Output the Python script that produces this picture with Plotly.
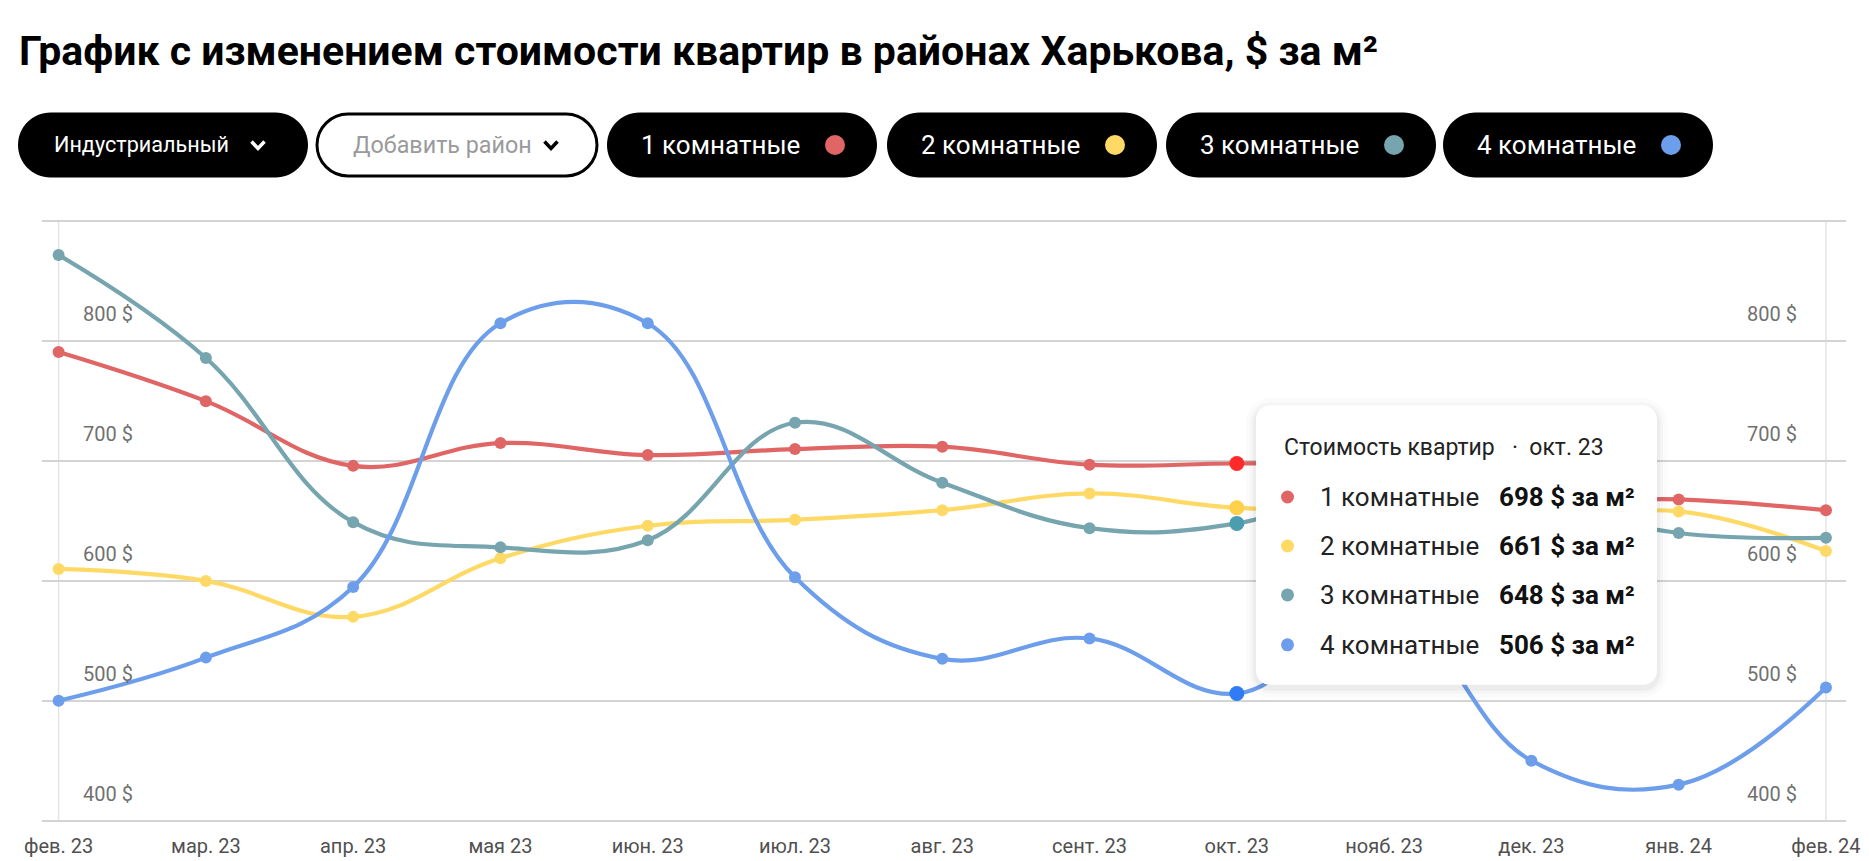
import plotly.graph_objects as go

# --- data ---
months = ["фев. 23", "мар. 23", "апр. 23", "мая 23", "июн. 23", "июл. 23", "авг. 23",
          "сент. 23", "окт. 23", "нояб. 23", "дек. 23", "янв. 24", "фев. 24"]
one_room = [791, 750, 696, 715, 705, 710, 712, 697, 698, 697, 668, 668, 659]
two_room = [610, 600, 570, 619, 646, 651, 659, 673, 661, 660, 650, 658, 625]
three_room = [872, 786, 649, 628, 634, 732, 682, 644, 648, 685, 665, 640, 636]
four_room = [500, 536, 595, 815, 815, 603, 535, 552, 506, 580, 450, 430, 511]
series_names = ["1 комнатные", "2 комнатные", "3 комнатные", "4 комнатные"]
y_ticks = [400, 500, 600, 700, 800, 900]
y_ticktext = ["400 $", "500 $", "600 $", "700 $", "800 $", ""]
focus_idx = 8  # окт. 23, the point shown in the tooltip

# --- styling ---
colors = ["#e06666", "#ffd966", "#76a5af", "#6d9eeb"]
focus_colors = ["#ff2b2b", "#ffd04a", "#4d9db0", "#2f7cf6"]
FONT = "Roboto"

# the page body has an 8px margin, so the figure is 8px smaller than the window
OFF = 8
W, H = 1869 - OFF, 861 - OFF
ML = 42 - OFF
MR = W - (1846 - OFF)
MT = 221 - OFF - 2.4
MB = H - (821 - OFF + 2.4)
PW, PH = W - ML - MR, H - MT - MB


# page pixel -> paper coords
def px(x):
    return (x - OFF - ML) / PW


def py(y):
    return (H - MB - (y - OFF)) / PH


def rounded_rect(x0, y0, x1, y1, r):
    k = 0.5523 * r
    pts = [
        ("M", [(x0 + r, y0)]),
        ("L", [(x1 - r, y0)]),
        ("C", [(x1 - r + k, y0), (x1, y0 + r - k), (x1, y0 + r)]),
        ("L", [(x1, y1 - r)]),
        ("C", [(x1, y1 - r + k), (x1 - r + k, y1), (x1 - r, y1)]),
        ("L", [(x0 + r, y1)]),
        ("C", [(x0 + r - k, y1), (x0, y1 - r + k), (x0, y1 - r)]),
        ("L", [(x0, y0 + r)]),
        ("C", [(x0, y0 + r - k), (x0 + r - k, y0), (x0 + r, y0)]),
    ]
    out = ""
    for cmd, coords in pts:
        out += cmd + " " + " ".join(f"{px(a):.5f},{py(b):.5f}" for a, b in coords) + " "
    return out + "Z"


def chevron(cx, cy, w=6.5, h=7):
    return (f"M {px(cx - w):.5f},{py(cy - h / 2):.5f} L {px(cx):.5f},{py(cy + h / 2):.5f} "
            f"L {px(cx + w):.5f},{py(cy - h / 2):.5f}")


fig = go.Figure()

all_series = [one_room, two_room, three_room, four_room]
x_idx = list(range(len(months)))
for name, vals, col in zip(series_names, all_series, colors):
    fig.add_trace(go.Scatter(
        x=x_idx, y=vals, name=name, mode="lines+markers",
        line=dict(color=col, width=4.2, shape="spline", smoothing=1.15),
        marker=dict(color=col, size=12),
        hoverinfo="skip"))

# highlighted October points
fig.add_trace(go.Scatter(
    x=[focus_idx] * 4, y=[s[focus_idx] for s in all_series], mode="markers",
    marker=dict(color=focus_colors, size=15), hoverinfo="skip"))

# invisible traces to carry the two label axes
for ax in ("y2", "y3"):
    fig.add_trace(go.Scatter(x=x_idx, y=one_room, yaxis=ax, mode="lines",
                             line=dict(width=0), opacity=0, hoverinfo="skip"))

shapes = []
annotations = []

# left / right vertical frame lines
for xv in (0, len(months) - 1):
    shapes.append(dict(type="line", xref="x", yref="y", x0=xv, x1=xv, y0=400, y1=900,
                       line=dict(color="#e4e4e4", width=1.5), layer="below"))

# title
annotations.append(dict(
    text="<b>График с изменением стоимости квартир в районах Харькова, $ за м²</b>",
    xref="paper", yref="paper", x=px(17), y=py(50), xanchor="left", yanchor="middle",
    showarrow=False, font=dict(family=FONT, size=41, color="#000")))

# button row
btn_y0, btn_y1 = 112, 177
btn_cy = (btn_y0 + btn_y1) / 2
shapes.append(dict(type="path", xref="paper", yref="paper",
                   path=rounded_rect(18, btn_y0, 308, btn_y1, 32.5),
                   fillcolor="#000", line=dict(width=0)))
annotations.append(dict(text="Индустриальный", xref="paper", yref="paper",
                        x=px(52), y=py(btn_cy), xanchor="left", yanchor="middle",
                        showarrow=False, font=dict(family=FONT, size=21.6, color="#fff")))
shapes.append(dict(type="path", xref="paper", yref="paper", path=chevron(258, btn_cy),
                   line=dict(color="#fff", width=3.5)))

shapes.append(dict(type="path", xref="paper", yref="paper",
                   path=rounded_rect(317, btn_y0 + 1.5, 597, btn_y1 - 1.5, 31),
                   fillcolor="#fff", line=dict(color="#000", width=3)))
annotations.append(dict(text="Добавить район", xref="paper", yref="paper",
                        x=px(351), y=py(btn_cy), xanchor="left", yanchor="middle",
                        showarrow=False, font=dict(family=FONT, size=23.3, color="#9a9a9a")))
shapes.append(dict(type="path", xref="paper", yref="paper", path=chevron(551, btn_cy),
                   line=dict(color="#000", width=3.5)))

pill_x = [607, 887, 1166, 1443]
for name, col, x0 in zip(series_names, colors, pill_x):
    x1 = x0 + 270
    shapes.append(dict(type="path", xref="paper", yref="paper",
                       path=rounded_rect(x0, btn_y0, x1, btn_y1, 32.5),
                       fillcolor="#000", line=dict(width=0)))
    annotations.append(dict(text=name, xref="paper", yref="paper",
                            x=px(x0 + 32), y=py(btn_cy), xanchor="left", yanchor="middle",
                            showarrow=False, font=dict(family=FONT, size=26, color="#fff")))
    shapes.append(dict(type="circle", xref="paper", yref="paper",
                       x0=px(x1 - 52), x1=px(x1 - 32), y0=py(btn_cy + 10), y1=py(btn_cy - 10),
                       fillcolor=col, line=dict(width=0)))

# tooltip box with soft shadow
tx0, ty0, tx1, ty1 = 1256, 405, 1657, 685
for grow, alpha in [(10, 0.015), (6, 0.025), (3, 0.035)]:
    shapes.append(dict(type="path", xref="paper", yref="paper",
                       path=rounded_rect(tx0 - grow, ty0 - grow + 3, tx1 + grow, ty1 + grow + 3, 14 + grow),
                       fillcolor=f"rgba(0,0,0,{alpha})", line=dict(width=0), layer="above"))
shapes.append(dict(type="path", xref="paper", yref="paper",
                   path=rounded_rect(tx0, ty0, tx1, ty1, 14),
                   fillcolor="#fff", line=dict(width=0), layer="above"))

annotations.append(dict(text="Стоимость квартир   ·  " + months[focus_idx],
                        xref="paper", yref="paper", x=px(1282), y=py(447),
                        xanchor="left", yanchor="middle", showarrow=False,
                        font=dict(family=FONT, size=23, color="#222")))
row_y = [497, 546, 595, 645]
for name, vals, col, ry in zip(series_names, all_series, colors, row_y):
    shapes.append(dict(type="circle", xref="paper", yref="paper", layer="above",
                       x0=px(1281), x1=px(1294), y0=py(ry + 6.5), y1=py(ry - 6.5),
                       fillcolor=col, line=dict(width=0)))
    annotations.append(dict(text=name, xref="paper", yref="paper", x=px(1318), y=py(ry),
                            xanchor="left", yanchor="middle", showarrow=False,
                            font=dict(family=FONT, size=26, color="#222")))
    annotations.append(dict(text=f"<b>{vals[focus_idx]} $ за м²</b>", xref="paper", yref="paper",
                            x=px(1497), y=py(ry), xanchor="left", yanchor="middle",
                            showarrow=False, font=dict(family=FONT, size=26, color="#111")))

x_left = (42 - 58.6) / 147.28
x_right = (1846 - 58.6) / 147.28

y_range = [398, 902]
label_axis = dict(tickvals=y_ticks, ticktext=y_ticktext, ticks="", showgrid=False,
                  zeroline=False, showline=False, overlaying="y", matches="y",
                  anchor="free", automargin=False,
                  ticklabelposition="outside top", ticklabelshift=-13,
                  tickfont=dict(family=FONT, size=20, color="#707070"))

fig.update_layout(
    width=W, height=H,
    margin=dict(l=ML, r=MR, t=MT, b=MB, autoexpand=False),
    paper_bgcolor="#fff", plot_bgcolor="#fff",
    showlegend=False, hovermode=False,
    font=dict(family=FONT),
    xaxis=dict(range=[x_left, x_right], tickvals=x_idx, ticktext=months,
               showgrid=False, zeroline=False, showline=False, ticks="",
               ticklabelstandoff=9, automargin=False,
               tickfont=dict(family=FONT, size=20, color="#505050")),
    yaxis=dict(range=y_range, tickvals=y_ticks, showticklabels=False, ticks="",
               zeroline=False, showgrid=True, gridcolor="#d4d4d4", gridwidth=1.8,
               automargin=False),
    yaxis2=dict(**label_axis, side="right", position=px(82)),
    yaxis3=dict(**label_axis, side="left", position=px(1797)),
    shapes=shapes,
    annotations=annotations,
)

fig.write_html("out.html")
